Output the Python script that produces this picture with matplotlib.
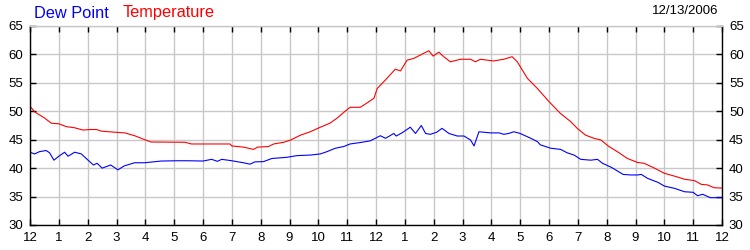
"""Dew point and temperature for 12/13/2006, hourly axis."""

import matplotlib
matplotlib.use("Agg")
import matplotlib.pyplot as plt

# hours since midnight
temp_hours = [0.0, 0.16, 0.51, 0.74, 1.0, 1.26, 1.55, 1.84, 2.1, 2.3, 2.48, 3.0, 3.29, 3.63,
              3.98, 4.2, 5.37, 5.6, 6.18, 6.94, 7.0, 7.4, 7.75, 7.9, 8.27, 8.45, 8.8, 9.04,
              9.38, 9.72, 10.07, 10.4, 10.65, 10.88, 11.1, 11.45, 11.7, 11.93, 12.04, 12.38,
              12.67, 12.85, 13.08, 13.31, 13.54, 13.83, 13.98, 14.18, 14.35, 14.58, 14.93,
              15.28, 15.45, 15.62, 16.08, 16.43, 16.72, 16.9, 17.25, 17.6, 18.0, 18.4, 18.75,
              18.98, 19.27, 19.56, 19.8, 20.08, 20.37, 20.72, 21.07, 21.3, 21.6, 22.0, 22.35,
              22.7, 23.05, 23.28, 23.5, 23.73, 24.0]
temperature = [50.9, 49.9, 48.8, 47.9, 47.8, 47.3, 47.1, 46.7, 46.8, 46.8, 46.5, 46.3, 46.2, 45.7,
               45.0, 44.6, 44.55, 44.25, 44.25, 44.25, 43.9, 43.7, 43.3, 43.7, 43.8, 44.25, 44.55,
               44.95, 45.8, 46.4, 47.2, 47.9, 48.8, 49.8, 50.7, 50.7, 51.5, 52.3, 54.0, 55.8,
               57.4, 57.1, 59.0, 59.3, 59.9, 60.65, 59.7, 60.4, 59.6, 58.7, 59.15,
               59.15, 58.7, 59.15, 58.85, 59.15, 59.6, 58.7, 55.8, 54.0, 51.7, 49.6, 48.2,
               47.0, 45.8, 45.25, 44.95, 43.8, 42.9, 41.7, 41.0, 40.85, 40.15, 39.1, 38.6,
               38.05, 37.8, 37.15, 37.05, 36.55, 36.5]

dew_hours = [0.0, 0.16, 0.33, 0.56, 0.68, 0.83, 1.0, 1.2, 1.32, 1.55, 1.78, 1.95, 2.2, 2.33,
             2.5, 2.8, 3.05, 3.27, 3.63, 3.98, 4.55, 5.1, 5.5, 6.0, 6.3, 6.5, 6.65, 7.0, 7.4,
             7.63, 7.8, 8.1, 8.39, 8.9, 9.26, 9.72, 10.07, 10.3, 10.59, 10.88, 11.1, 11.45,
             11.8, 12.15, 12.33, 12.62, 12.7, 12.9, 13.19, 13.37, 13.57, 13.72, 13.88, 14.1,
             14.29, 14.53, 14.82, 15.05, 15.28, 15.4, 15.57, 15.97, 16.27, 16.43, 16.6, 16.78,
             17.0, 17.37, 17.6, 17.7, 18.06, 18.4, 18.63, 18.87, 19.1, 19.45, 19.68, 19.86,
             20.16, 20.57, 20.83, 21.07, 21.2, 21.42, 21.78, 22.0, 22.35, 22.7, 23.0, 23.15,
             23.33, 23.6, 24.0]
dew_point = [42.8, 42.5, 42.9, 43.1, 42.7, 41.4, 42.1, 42.8, 42.1, 42.8, 42.5, 41.7, 40.55, 40.85,
             40.0, 40.55, 39.7, 40.4, 40.95, 40.95, 41.25, 41.3, 41.3, 41.25, 41.55, 41.2, 41.55,
             41.3, 40.95, 40.7, 41.1, 41.15, 41.7, 41.9, 42.2, 42.3, 42.5, 42.9, 43.5, 43.8, 44.25,
             44.5, 44.8, 45.7, 45.25, 46.1, 45.65, 46.2, 47.2, 46.1, 47.5, 46.1, 45.95, 46.3,
             47.0, 46.1, 45.65, 45.65, 44.95, 43.9, 46.4, 46.2, 46.2, 45.95, 46.1, 46.4,
             46.1, 45.25, 44.65, 44.1, 43.5, 43.3, 42.7, 42.3, 41.55, 41.4, 41.55, 40.85,
             40.15, 38.9, 38.8, 38.8, 38.9, 38.2, 37.5, 36.85, 36.45, 35.85, 35.75, 35.15,
             35.4, 34.8, 34.8]

hour_labels = ["12"] + [str(h) for h in range(1, 12)] + ["12"] + [str(h) for h in range(1, 12)] + ["12"]
y_ticks = [30, 35, 40, 45, 50, 55, 60, 65]

plt.rcParams["font.family"] = ["Liberation Sans", "DejaVu Sans"]

fig = plt.figure(figsize=(7.5, 2.5), dpi=100)
ax = fig.add_axes([30 / 750, 1 - 225 / 250, 692 / 750, 199 / 250])

ax.plot(temp_hours, temperature, color="#ff0000", linewidth=0.8)
ax.plot(dew_hours, dew_point, color="#0000ff", linewidth=0.8)

ax.set_xlim(0, 24)
ax.set_ylim(30, 65)
ax.set_xticks(range(25))
ax.set_xticklabels(hour_labels)
ax.set_yticks(y_ticks)
ax.grid(True, color="#c8c8c8", linewidth=1.0)
ax.set_axisbelow(True)
ax.tick_params(direction="in", length=4, width=1, labelsize=9.5, colors="black",
               top=True, right=True, labelright=True, pad=5)
for side in ("left", "bottom", "right", "top"):
    ax.spines[side].set_linewidth(1.0)
ax.spines["top"].set_color("#c8c8c8")

fig.text(34 / 750, 1 - 13 / 250, "Dew Point", color="#0000ff", fontsize=11.8, va="center")
fig.text(123 / 750, 1 - 13 / 250, "Temperature", color="#ff0000", fontsize=11.8, va="center")
fig.text(718 / 750, 1 - 11 / 250, "12/13/2006", color="black", fontsize=9.5, va="center", ha="right")

fig.savefig("out.png", dpi=100)
